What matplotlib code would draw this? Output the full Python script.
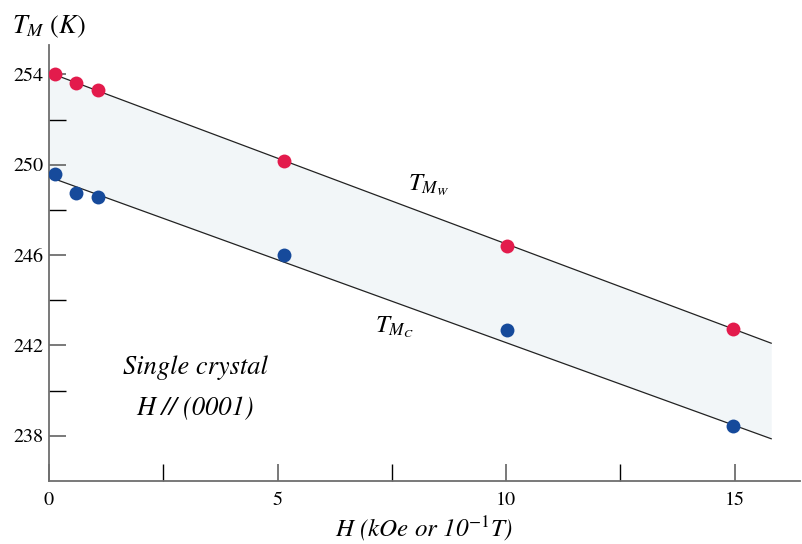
import numpy as np
import matplotlib
matplotlib.use("Agg")
import matplotlib.pyplot as plt

plt.rcParams['font.family'] = ['STIXGeneral', 'DejaVu Serif']
plt.rcParams['mathtext.fontset'] = 'stix'
plt.rcParams['mathtext.default'] = 'it'

# measured points (field in kOe, temperature in K)
field = [0.13, 0.59, 1.08, 5.14, 10.03, 14.97]
t_mw = [254.0, 253.63, 253.29, 250.15, 246.40, 242.73]
t_mc = [249.59, 248.74, 248.58, 246.0, 242.67, 238.44]

# fitted lines bounding the shaded band
line_x = [0.0, 15.8]
upper_line = [254.08, 242.10]
lower_line = [249.46, 237.87]

red = '#e31b4c'
blue = '#164a9b'
grey = '#6e6e6e'

fig = plt.figure(figsize=(8.02, 5.44), dpi=100)
ax = fig.add_axes([49 / 802, 63 / 544, 751 / 802, 436 / 544])

ax.fill_between(line_x, lower_line, upper_line, color='#f2f6f8', lw=0, zorder=1)
ax.plot(line_x, upper_line, color='#222222', lw=0.9, zorder=2)
ax.plot(line_x, lower_line, color='#222222', lw=0.9, zorder=2)
ax.plot(field, t_mw, 'o', color=red, ms=10, mec='none', zorder=3)
ax.plot(field, t_mc, 'o', color=blue, ms=10, mec='none', zorder=3)

ax.set_xlim(0, 16.43)
ax.set_ylim(236.0, 255.3)

for s in ['top', 'right']:
    ax.spines[s].set_visible(False)
for s in ['left', 'bottom']:
    ax.spines[s].set_color(grey)
    ax.spines[s].set_linewidth(1.3)

ax.set_xticks([0, 5, 10, 15])
ax.set_xticks([2.5, 7.5, 12.5], minor=True)
ax.set_yticks([238, 242, 246, 250, 254])
ax.set_yticks([240, 244, 248, 252], minor=True)

ax.tick_params(which='major', direction='in', length=12, width=1.3, color=grey,
               labelsize=14.5)
ax.tick_params(which='minor', direction='in', length=12, width=1.0, color='black')
ax.tick_params(axis='x', which='major', pad=8)
ax.tick_params(axis='y', which='major', pad=4)

ax.text(8.3, 249.1, r'$T_{M_W}$', fontsize=18, ha='center', va='center')
ax.text(7.55, 242.8, r'$T_{M_C}$', fontsize=18, ha='center', va='center')

ax.text(3.2, 241.0, 'Single crystal', fontsize=19, style='italic',
        ha='center', va='center')
ax.text(3.2, 239.2, 'H // (0001)', fontsize=19, style='italic',
        ha='center', va='center')

fig.text(12 / 802, 1 - 33 / 544, r'$T_M$ $(K)$', fontsize=19, va='baseline')
ax.set_xlabel(r'H (kOe or 10$^{-1}$T)', fontsize=18, style='italic', labelpad=3)

fig.savefig('out.png', dpi=100)
